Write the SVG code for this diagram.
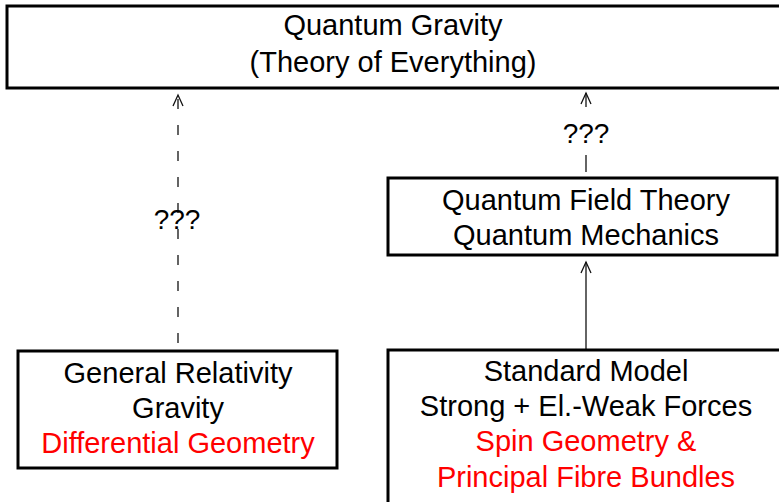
<svg xmlns="http://www.w3.org/2000/svg" width="779" height="502" viewBox="0 0 779 502">
<style>
.box{fill:#fff;stroke:#000;stroke-width:3}
.t{font-family:"Liberation Sans",Arial,sans-serif;font-size:29px;text-anchor:middle;fill:#000}
.r{fill:#ff0000}
.q{font-family:"Liberation Sans",Arial,sans-serif;font-size:28px;text-anchor:middle;fill:#000}
.c{stroke:#111;stroke-width:1.3;fill:none}
</style>
<rect width="779" height="502" fill="#fff"/>
<g id="connectors">
<line class="c" x1="178" y1="343" x2="178" y2="95" stroke-dasharray="10,16"/>
<path class="c" d="M173,106 L178,95 L183,106"/>
<line class="c" x1="586" y1="93" x2="586" y2="107"/>
<path class="c" d="M581,104 L586,93 L591,104"/>
<line class="c" x1="586" y1="155" x2="586" y2="172"/>
<line class="c" x1="586" y1="350" x2="586" y2="262"/>
<path class="c" d="M581,273 L586,262 L591,273"/>
<text class="q" x="177" y="229">???</text>
<text class="q" x="586" y="143">???</text>
</g>
<g id="quantum-gravity">
<rect class="box" x="7" y="6" width="790" height="82"/>
<text class="t" x="393" y="35">Quantum Gravity</text>
<text class="t" x="393" y="72">(Theory of Everything)</text>
</g>
<g id="qft">
<rect class="box" x="388" y="178" width="389" height="77"/>
<text class="t" x="586" y="210">Quantum Field Theory</text>
<text class="t" x="586" y="245">Quantum Mechanics</text>
</g>
<g id="general-relativity">
<rect class="box" x="18" y="351" width="319" height="117"/>
<text class="t" x="178" y="383">General Relativity</text>
<text class="t" x="178" y="418">Gravity</text>
<text class="t r" x="178" y="453">Differential Geometry</text>
</g>
<g id="standard-model">
<rect class="box" x="388" y="350" width="410" height="170"/>
<text class="t" x="586" y="381">Standard Model</text>
<text class="t" x="586" y="416">Strong + El.-Weak Forces</text>
<text class="t r" x="586" y="451">Spin Geometry &amp;</text>
<text class="t r" x="586" y="487">Principal Fibre Bundles</text>
</g>
</svg>
